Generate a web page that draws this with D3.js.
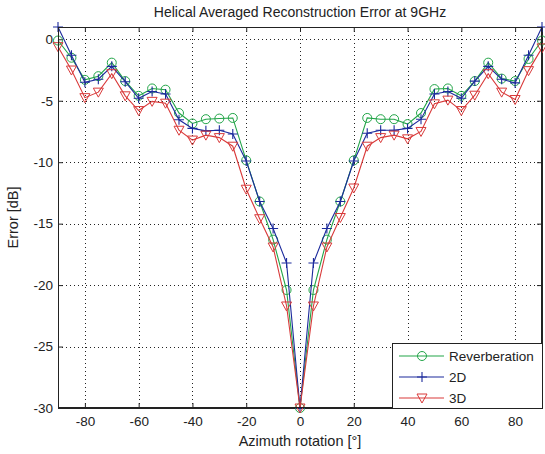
<!DOCTYPE html>
<html>
<head>
<meta charset="utf-8">
<script src="https://cdn.jsdelivr.net/npm/d3@7"></script>
<style>
  html, body { margin: 0; padding: 0; background: #fff; }
  svg { display: block; font-family: "Liberation Sans", Arial, sans-serif; }
</style>
</head>
<body>
<svg id="chart" width="545" height="454"></svg>
<script>
// Azimuth angles (degrees)
const azimuth = [-90,-85,-80,-75,-70,-65,-60,-55,-50,-45,-40,-35,-30,-25,-20,-15,-10,-5,0,
                 5,10,15,20,25,30,35,40,45,50,55,60,65,70,75,80,85,90];

// Reconstruction error (dB) per method
const reverberation = [-0.1,-1.5,-3.3,-3.0,-1.9,-3.4,-4.6,-4.0,-4.1,-6.0,-6.85,-6.5,-6.45,-6.4,-9.85,-13.2,-16.3,-20.4,-30,
                       -20.4,-16.3,-13.2,-9.85,-6.4,-6.5,-6.5,-6.9,-6.0,-4.05,-4.0,-4.6,-3.4,-1.9,-3.2,-3.4,-1.6,-0.1];
const twoD = [1.0,-1.3,-3.5,-3.25,-2.2,-3.45,-4.8,-4.25,-4.45,-6.55,-7.25,-7.45,-7.4,-7.7,-9.9,-13.2,-15.4,-18.2,-30,
              -18.2,-15.4,-13.2,-9.9,-7.65,-7.4,-7.4,-7.25,-6.5,-4.45,-4.25,-4.8,-3.4,-2.2,-3.25,-3.55,-1.3,1.0];
const threeD = [-0.6,-2.5,-4.75,-4.3,-2.8,-4.6,-5.8,-5.05,-5.2,-7.4,-8.2,-7.8,-8.0,-8.7,-12.2,-14.6,-16.9,-21.7,-30,
                -21.7,-16.9,-14.5,-12.1,-8.7,-8.0,-7.8,-8.1,-7.5,-5.25,-4.95,-5.8,-4.55,-2.8,-4.3,-4.9,-2.55,-0.7];

const seriesNames = ["Reverberation", "2D", "3D"];
const seriesColors = ["#22a548", "#1c2a9c", "#d93a3a"];
const seriesMarkers = ["circle", "plus", "triangle"];
const seriesValues = [reverberation, twoD, threeD];

const xTicks = [-80,-60,-40,-20,0,20,40,60,80];
const yTicks = [-30,-25,-20,-15,-10,-5,0];

const svg = d3.select("#chart");
const margin = {left: 58, right: 3, top: 27, bottom: 46};
const W = 545, H = 454;
const x0 = margin.left, x1 = W - margin.right, y0 = margin.top, y1 = H - margin.bottom;

const x = d3.scaleLinear().domain([-90, 90]).range([x0, x1]);
const y = d3.scaleLinear().domain([-30, 1]).range([y1, y0]);

// Plot background
svg.append("rect").attr("x", x0).attr("y", y0).attr("width", x1 - x0).attr("height", y1 - y0)
  .attr("fill", "#fff");

// Dotted grid
const grid = svg.append("g").attr("stroke", "#222").attr("stroke-width", 1)
  .attr("stroke-dasharray", "1,3");
grid.selectAll("line.gx").data(xTicks).join("line")
  .attr("x1", d => Math.round(x(d)) + 0.5).attr("x2", d => Math.round(x(d)) + 0.5)
  .attr("y1", y0).attr("y2", y1);
grid.selectAll("line.gy").data(yTicks.filter(d => d > -30)).join("line")
  .attr("y1", d => Math.round(y(d)) + 0.5).attr("y2", d => Math.round(y(d)) + 0.5)
  .attr("x1", x0).attr("x2", x1);

// Axes (ticks point inward, mirrored on top/right)
const tickFont = g => g.selectAll("text").attr("font-size", 13.5).attr("fill", "#222")
  .attr("font-family", "Liberation Sans, Arial, sans-serif");

const xAxis = svg.append("g").attr("transform", `translate(0,${y1})`)
  .call(d3.axisBottom(x).tickValues(xTicks).tickSize(-5).tickPadding(8));
xAxis.call(tickFont);
const xAxisTop = svg.append("g").attr("transform", `translate(0,${y0})`)
  .call(d3.axisTop(x).tickValues(xTicks).tickSize(-5).tickFormat(""));
const yAxis = svg.append("g").attr("transform", `translate(${x0},0)`)
  .call(d3.axisLeft(y).tickValues(yTicks).tickSize(-5).tickPadding(5));
yAxis.call(tickFont);
const yAxisRight = svg.append("g").attr("transform", `translate(${x1},0)`)
  .call(d3.axisRight(y).tickValues(yTicks).tickSize(-5).tickFormat(""));
[xAxis, xAxisTop, yAxis, yAxisRight].forEach(a => {
  a.selectAll("path.domain").attr("stroke", "#222");
  a.selectAll(".tick line").attr("stroke", "#222");
});
// Tick labels use a plain hyphen for negatives
xAxis.selectAll("text").text(d => String(d));
yAxis.selectAll("text").text(d => String(d));

// Marker drawing helper
function drawMarker(g, type, color, cx, cy) {
  if (type === "circle") {
    g.append("circle").attr("cx", cx).attr("cy", cy).attr("r", 4.5)
      .attr("fill", "none").attr("stroke", color).attr("stroke-width", 1);
  } else if (type === "plus") {
    g.append("path").attr("d", `M${cx-5},${cy}H${cx+5}M${cx},${cy-5}V${cy+5}`)
      .attr("stroke", color).attr("stroke-width", 1.1).attr("fill", "none");
  } else {
    g.append("path").attr("d", `M${cx-5},${cy-4}L${cx+5},${cy-4}L${cx},${cy+5}Z`)
      .attr("fill", "none").attr("stroke", color).attr("stroke-width", 1);
  }
}

const line = d3.line().x((d, i) => x(azimuth[i])).y(d => y(d));

seriesValues.forEach((vals, s) => {
  const g = svg.append("g");
  g.append("path").datum(vals).attr("d", line)
    .attr("fill", "none").attr("stroke", seriesColors[s]).attr("stroke-width", 1.1);
  vals.forEach((v, i) => drawMarker(g, seriesMarkers[s], seriesColors[s], x(azimuth[i]), y(v)));
});

// Frame on top
svg.append("rect").attr("x", x0 + 0.5).attr("y", y0 + 0.5)
  .attr("width", x1 - x0 - 1).attr("height", y1 - y0 - 1)
  .attr("fill", "none").attr("stroke", "#222").attr("stroke-width", 1);

// Legend
const lg = svg.append("g");
const lgX = 392, lgY = 343, lgW = 151, lgH = 66;
lg.append("rect").attr("x", lgX + 0.5).attr("y", lgY + 0.5).attr("width", lgW - 1).attr("height", lgH - 1)
  .attr("fill", "#fff").attr("stroke", "#222");
seriesNames.forEach((name, s) => {
  const cy = lgY + 13 + s * 21;
  lg.append("line").attr("x1", lgX + 7).attr("x2", lgX + 52).attr("y1", cy).attr("y2", cy)
    .attr("stroke", seriesColors[s]).attr("stroke-width", 1.1);
  drawMarker(lg, seriesMarkers[s], seriesColors[s], lgX + 30, cy);
  lg.append("text").attr("x", lgX + 57).attr("y", cy).attr("dy", "0.36em")
    .attr("font-size", 13.5).attr("fill", "#222").text(name);
});

// Title and axis labels
svg.append("text").attr("x", (x0 + x1) / 2).attr("y", 17).attr("text-anchor", "middle")
  .attr("font-size", 14).attr("fill", "#222").text("Helical Averaged Reconstruction Error at 9GHz");
svg.append("text").attr("x", (x0 + x1) / 2).attr("y", 446).attr("text-anchor", "middle")
  .attr("font-size", 14.5).attr("fill", "#222").text("Azimuth rotation [°]");
svg.append("text").attr("transform", `translate(18,${(y0 + y1) / 2}) rotate(-90)`)
  .attr("text-anchor", "middle").attr("font-size", 14.5).attr("fill", "#222").text("Error [dB]");
</script>
</body>
</html>
